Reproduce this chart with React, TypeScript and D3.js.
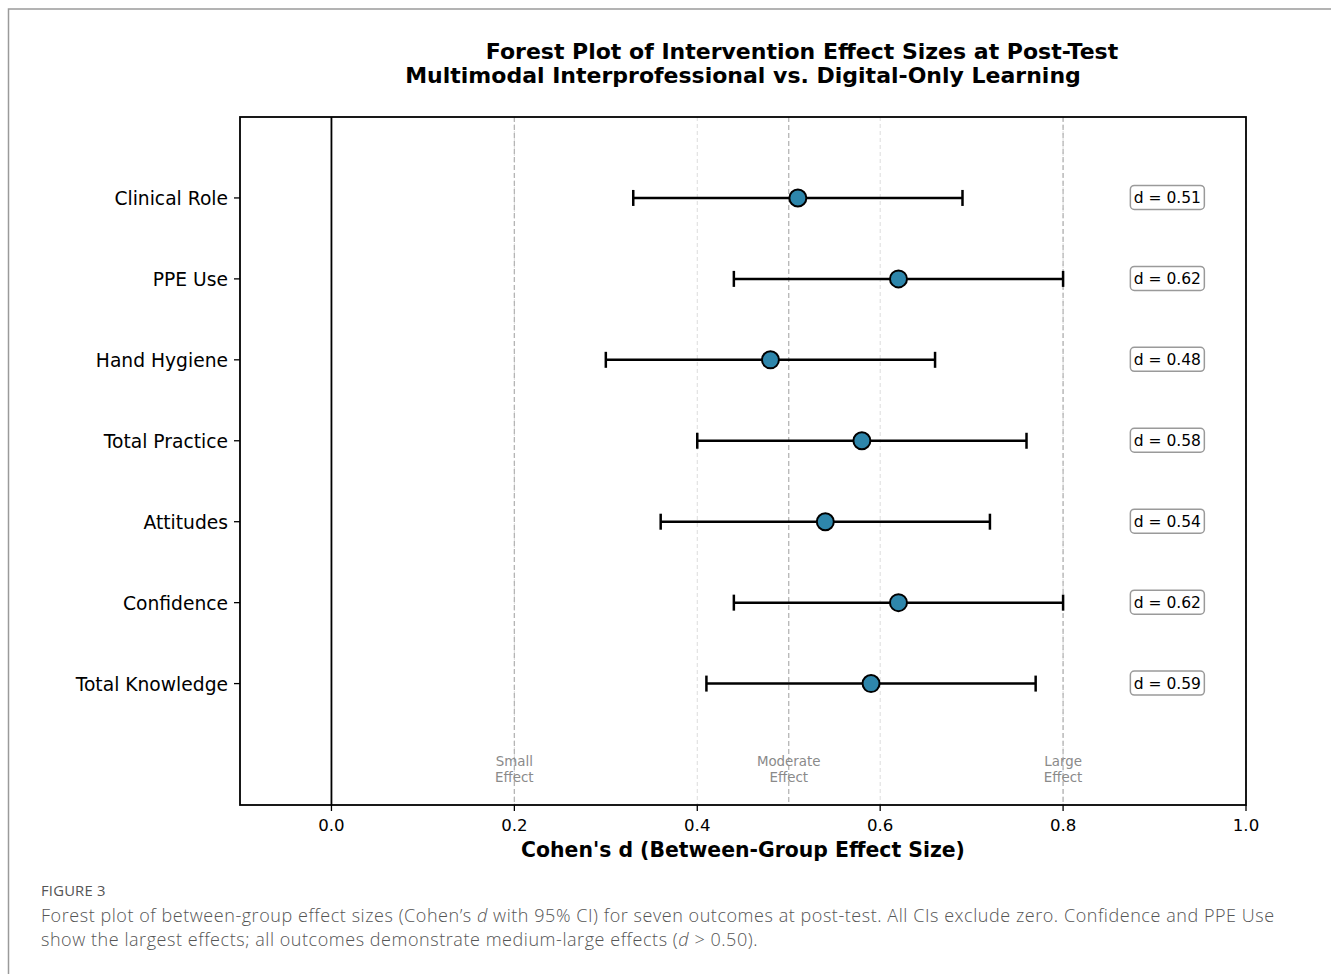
import React from "react";
import * as d3 from "d3";

const outcomes = ["Total Knowledge", "Confidence", "Attitudes", "Total Practice", "Hand Hygiene", "PPE Use", "Clinical Role"];
const effects = [0.59, 0.62, 0.54, 0.58, 0.48, 0.62, 0.51];
const ciLower = [0.41, 0.44, 0.36, 0.40, 0.30, 0.44, 0.33];
const ciUpper = [0.77, 0.80, 0.72, 0.76, 0.66, 0.80, 0.69];
const xTicks = [0.0, 0.2, 0.4, 0.6, 0.8, 1.0];
const refLines = [0.2, 0.5, 0.8];
const refLabels = ["Small", "Moderate", "Large"];

const W = 1331;
const H = 974;
const M = { left: 240, right: 1246, top: 117, bottom: 805 };
const FONT = "'DejaVu Sans', sans-serif";
const CAP = "'Open Sans', sans-serif";

export default function App() {
  const x = d3.scaleLinear().domain([-0.1, 1.0]).range([M.left, M.right]);
  const y = d3.scaleLinear().domain([-1.5, 7]).range([M.bottom, M.top]);
  const boxX = x(0.914);

  return (
    <svg width={W} height={H} style={{ position: "absolute", left: 0, top: 0, background: "#fff" }}>
      <rect x={0} y={0} width={W} height={H} fill="#fff" />
      <rect x={8.5} y={9} width={W + 20} height={H + 20} fill="none" stroke="#9a9a9a" strokeWidth={1.5} />

      {/* title */}
      <text x={802} y={59} textAnchor="middle" fontFamily={FONT} fontWeight="bold" fontSize={22} fill="#000">
        Forest Plot of Intervention Effect Sizes at Post-Test
      </text>
      <text x={743} y={83} textAnchor="middle" fontFamily={FONT} fontWeight="bold" fontSize={22} fill="#000">
        Multimodal Interprofessional vs. Digital-Only Learning
      </text>

      {/* light grid */}
      {xTicks.map((t) => (
        <line key={"g" + t} x1={x(t)} x2={x(t)} y1={M.top} y2={M.bottom} stroke="#dcdcdc" strokeWidth={1} strokeDasharray="4,3" />
      ))}
      {/* reference lines */}
      {refLines.map((t) => (
        <line key={"r" + t} x1={x(t)} x2={x(t)} y1={M.top} y2={M.bottom} stroke="#b5b5b5" strokeWidth={1.3} strokeDasharray="5,3" />
      ))}
      {refLines.map((t, i) => (
        <text key={"rl" + t} x={x(t)} textAnchor="middle" fontFamily={FONT} fontSize={13.4} fill="#8a8a8a">
          <tspan x={x(t)} y={y(-1) + 1}>{refLabels[i]}</tspan>
          <tspan x={x(t)} y={y(-1) + 17}>Effect</tspan>
        </text>
      ))}
      {/* zero line */}
      <line x1={x(0)} x2={x(0)} y1={M.top} y2={M.bottom} stroke="#000" strokeWidth={1.8} />

      {/* error bars and points */}
      {outcomes.map((o, i) => {
        const yy = y(i);
        return (
          <g key={o}>
            <line x1={x(ciLower[i])} x2={x(ciUpper[i])} y1={yy} y2={yy} stroke="#000" strokeWidth={2.5} />
            <line x1={x(ciLower[i])} x2={x(ciLower[i])} y1={yy - 8} y2={yy + 8} stroke="#000" strokeWidth={2.5} />
            <line x1={x(ciUpper[i])} x2={x(ciUpper[i])} y1={yy - 8} y2={yy + 8} stroke="#000" strokeWidth={2.5} />
            <circle cx={x(effects[i])} cy={yy} r={8.5} fill="#2E86AB" stroke="#000" strokeWidth={2} />
            <rect x={boxX - 37} y={yy - 12.5} width={74} height={24} rx={4} fill="#fff" stroke="#9a9a9a" strokeWidth={1.5} />
            <text x={boxX} y={yy + 5.5} textAnchor="middle" fontFamily={FONT} fontSize={15.5} fill="#000">
              {"d = " + effects[i].toFixed(2)}
            </text>
          </g>
        );
      })}

      {/* axes frame */}
      <rect x={M.left} y={M.top} width={M.right - M.left} height={M.bottom - M.top} fill="none" stroke="#000" strokeWidth={1.8} />

      {/* x ticks */}
      {xTicks.map((t) => (
        <g key={"xt" + t}>
          <line x1={x(t)} x2={x(t)} y1={M.bottom} y2={M.bottom + 6} stroke="#000" strokeWidth={1.3} />
          <text x={x(t)} y={M.bottom + 26} textAnchor="middle" fontFamily={FONT} fontSize={16.6} fill="#000">
            {t.toFixed(1)}
          </text>
        </g>
      ))}
      {/* y ticks */}
      {outcomes.map((o, i) => (
        <g key={"yt" + o}>
          <line x1={M.left - 6} x2={M.left} y1={y(i)} y2={y(i)} stroke="#000" strokeWidth={1.3} />
          <text x={M.left - 12} y={y(i) + 7} textAnchor="end" fontFamily={FONT} fontSize={18.7} fill="#000">
            {o}
          </text>
        </g>
      ))}

      <text x={743} y={857} textAnchor="middle" fontFamily={FONT} fontWeight="bold" fontSize={20.4} fill="#000">
        Cohen's d (Between-Group Effect Size)
      </text>

      {/* caption */}
      <text x={41} y={896} fontFamily={CAP} fontSize={14.8} fill="#555" letterSpacing={0.2}>FIGURE 3</text>
      <text x={41} y={922} fontFamily={CAP} fontWeight={300} fontSize={18} fill="#555" letterSpacing={0.55}>
        Forest plot of between-group effect sizes (Cohen’s <tspan fontStyle="italic">d</tspan> with 95% CI) for seven outcomes at post-test. All CIs exclude zero. Confidence and PPE Use
      </text>
      <text x={41} y={946} fontFamily={CAP} fontWeight={300} fontSize={18} fill="#555" letterSpacing={0.55}>
        show the largest effects; all outcomes demonstrate medium-large effects (<tspan fontStyle="italic">d</tspan> {">"} 0.50).
      </text>
    </svg>
  );
}
